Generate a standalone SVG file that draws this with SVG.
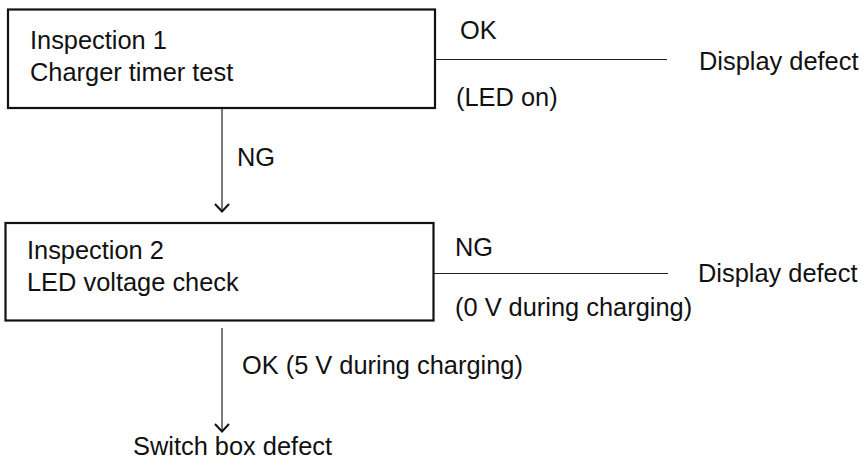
<svg xmlns="http://www.w3.org/2000/svg" width="867" height="472" viewBox="0 0 867 472">
<style>
text{font-family:"Liberation Sans",Arial,sans-serif;font-size:25.4px;fill:#111}
.box{fill:#fff;stroke:#111;stroke-width:2.2}
.ln{stroke:#222;stroke-width:1.2;fill:none}
.ah{fill:none;stroke:#111;stroke-width:2}
</style>
<rect width="867" height="472" fill="#fff"/>
<g id="connectors">
<line class="ln" x1="222" y1="109" x2="222" y2="211"/>
<path class="ah" d="M215,204 L222,211.5 L229,204"/>
<line class="ln" x1="222" y1="328" x2="222" y2="431"/>
<path class="ah" d="M215,424 L222,431.5 L229,424"/>
<line class="ln" x1="435" y1="59.5" x2="667" y2="59.5"/>
<line class="ln" x1="433" y1="273.5" x2="668" y2="273.5"/>
<text x="237" y="166">NG</text>
<text x="242" y="374">OK (5 V during charging)</text>
<text x="460" y="39">OK</text>
<text x="456" y="106">(LED on)</text>
<text x="455" y="256">NG</text>
<text x="455" y="316">(0 V during charging)</text>
</g>
<g id="inspection1">
<rect class="box" x="8" y="9.5" width="427" height="98.5"/>
<text x="30" y="49">Inspection 1</text>
<text x="30" y="81">Charger timer test</text>
</g>
<g id="inspection2">
<rect class="box" x="5.5" y="223" width="428" height="97.5"/>
<text x="27" y="259">Inspection 2</text>
<text x="27" y="291">LED voltage check</text>
</g>
<g id="display-defect-1">
<text x="699" y="70">Display defect</text>
</g>
<g id="display-defect-2">
<text x="698" y="282">Display defect</text>
</g>
<g id="switch-box-defect">
<text x="133" y="455">Switch box defect</text>
</g>
</svg>
